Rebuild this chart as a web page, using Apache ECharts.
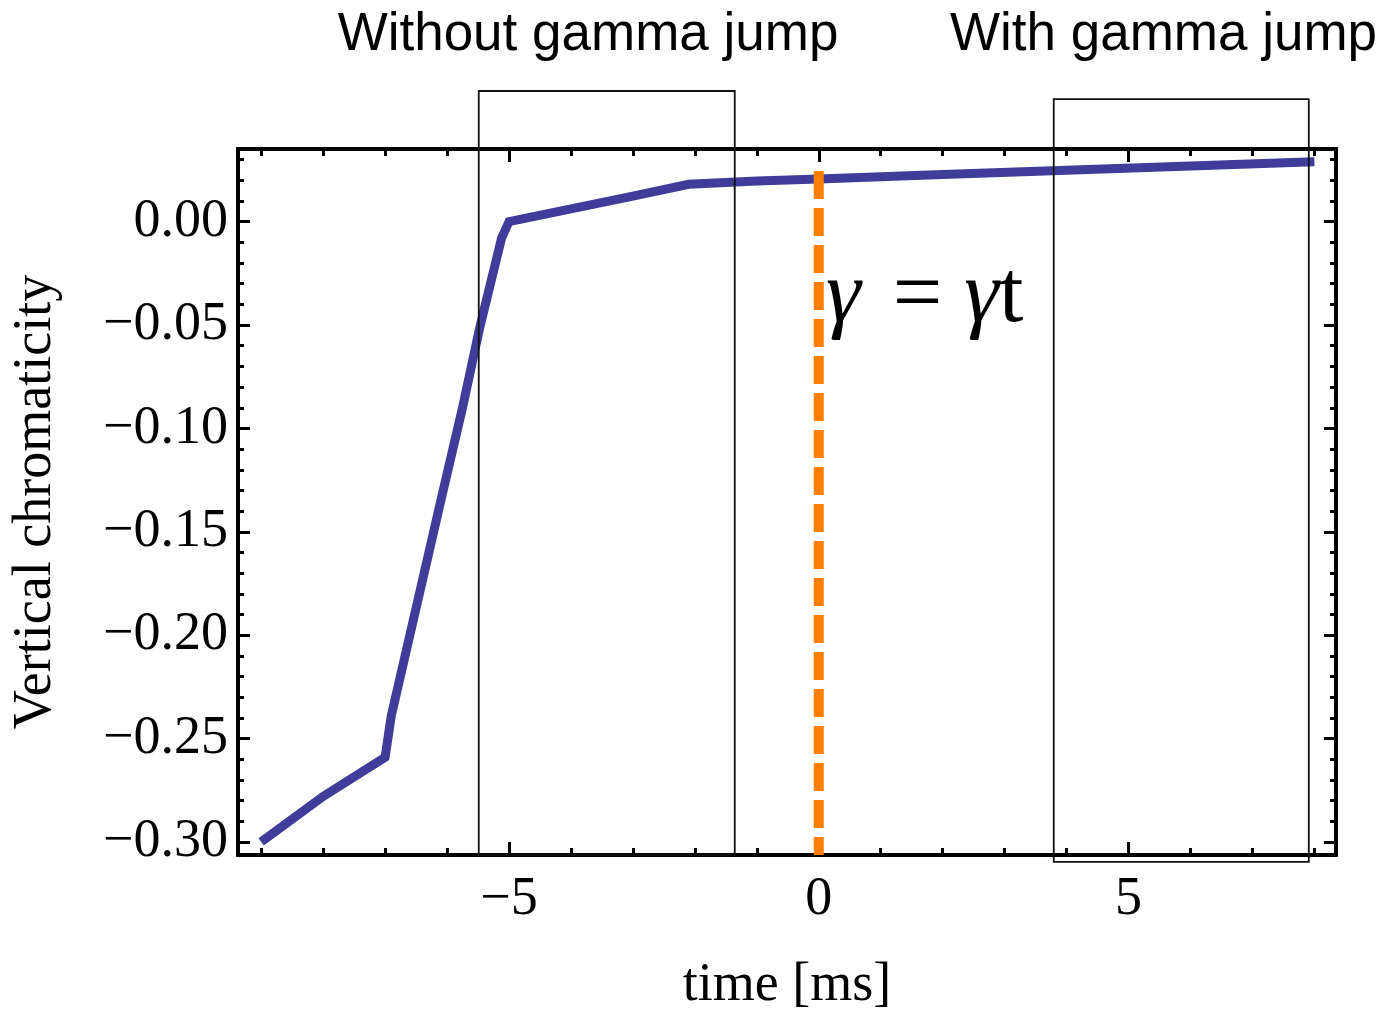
<!DOCTYPE html>
<html><head><meta charset="utf-8">
<script src="https://cdn.jsdelivr.net/npm/echarts@6/dist/echarts.min.js"></script>
<style>html,body{margin:0;padding:0;background:#fff}#c{width:1384px;height:1009px}</style>
</head><body><div id="c"></div>
<script>
// ---- data ----
const timeMs = [-9, -8, -7, -6.9, -6.07, -5.75, -5.47, -5.12, -5.0, -4.0, -3.0, -2.1, -1.0, 0, 2, 4, 6, 8];
const chromaticity = [-0.300, -0.278, -0.259, -0.239, -0.131, -0.090, -0.051, -0.008, 0.0, 0.0062, 0.0124, 0.0181, 0.0197, 0.0207, 0.0228, 0.0249, 0.0269, 0.029];
const markerTime = [0, 0];
const markerValue = [0.0245, -0.3063];
const boxLeft = [-5.488, 3.793];
const boxRight = [-1.356, 7.910];
const boxTop = [0.0632, 0.0593];
const boxBottom = [-0.3062, -0.3096];
const xMajorTicks = [-5, 0, 5];
const xMinorTicks = [-9, -8, -7, -6, -5, -4, -3, -2, -1, 0, 1, 2, 3, 4, 5, 6, 7, 8];
const yMajorTicks = [-0.30, -0.25, -0.20, -0.15, -0.10, -0.05, 0.00];
const yMinorTicks = [-0.30, -0.29, -0.28, -0.27, -0.26, -0.25, -0.24, -0.23, -0.22, -0.21, -0.20, -0.19, -0.18, -0.17, -0.16, -0.15, -0.14, -0.13, -0.12, -0.11, -0.10, -0.09, -0.08, -0.07, -0.06, -0.05, -0.04, -0.03, -0.02, -0.01, 0.00, 0.01, 0.02, 0.03];
const titleTexts = ['Without gamma jump', 'With gamma jump'];
const xName = 'time [ms]';
const yName = 'Vertical chromaticity';

const X_MIN = -9.374, X_MAX = 8.349;
const Y_MIN = -0.3063, Y_MAX = 0.03515;

const SERIF = '"Liberation Serif", "Times New Roman", serif';
const SANS = '"Liberation Sans", Arial, sans-serif';

function xAx(pos, ticks, len, extra) {
  return Object.assign({
    type: 'value', position: pos, min: X_MIN, max: X_MAX, gridIndex: 0,
    splitLine: {show: false},
    axisLine: {show: true, onZero: false, lineStyle: {color: '#000', width: 4}},
    axisTick: {show: true, inside: true, length: len, customValues: ticks, lineStyle: {color: '#000', width: 3}},
    axisLabel: {show: false}
  }, extra || {});
}
function yAx(pos, ticks, len, extra) {
  return Object.assign({
    type: 'value', position: pos, min: Y_MIN, max: Y_MAX, gridIndex: 0,
    splitLine: {show: false},
    axisLine: {show: true, onZero: false, lineStyle: {color: '#000', width: 4}},
    axisTick: {show: true, inside: true, length: len, customValues: ticks, lineStyle: {color: '#000', width: 3}},
    axisLabel: {show: false}
  }, extra || {});
}

const lineData = timeMs.map((t, i) => [t, chromaticity[i]]);
const markerData = markerTime.map((t, i) => [t, markerValue[i]]);
const boxData = boxLeft.map((l, i) => [l, boxRight[i], boxTop[i], boxBottom[i]]);

const chart = echarts.init(document.getElementById('c'), null, {renderer: 'canvas'});
chart.setOption({
  animation: false,
  backgroundColor: '#fff',
  grid: {left: 238, right: 48, top: 149, bottom: 154, containLabel: false, outerBoundsMode: 'none'},
  xAxis: [
    xAx('bottom', xMinorTicks, 7, {
      name: xName, nameLocation: 'middle', nameGap: 104,
      nameTextStyle: {fontFamily: SERIF, fontSize: 54, color: '#000'},
      axisLabel: {show: true, customValues: xMajorTicks, margin: 18, fontFamily: SERIF, fontSize: 54, color: '#000',
        formatter: v => (v < 0 ? '\u2212' : '') + Math.abs(v)}
    }),
    xAx('bottom', xMajorTicks, 13),
    xAx('top', xMinorTicks, 7),
    xAx('top', xMajorTicks, 13)
  ],
  yAxis: [
    yAx('left', yMinorTicks, 6, {
      name: yName, nameLocation: 'middle', nameGap: 175,
      nameTextStyle: {fontFamily: SERIF, fontSize: 54, color: '#000'},
      axisLabel: {show: true, customValues: yMajorTicks, margin: 10, fontFamily: SERIF, fontSize: 54, color: '#000',
        formatter: v => (v < -1e-9 ? '\u2212' : '') + Math.abs(v).toFixed(2)}
    }),
    yAx('left', yMajorTicks, 12),
    yAx('right', yMinorTicks, 6),
    yAx('right', yMajorTicks, 12)
  ],
  series: [
    {
      type: 'line', xAxisIndex: 0, yAxisIndex: 0, data: lineData,
      symbol: 'none', showSymbol: false, z: 2,
      lineStyle: {color: '#3F3D99', width: 9, join: 'miter'}
    },
    {
      type: 'custom', xAxisIndex: 0, yAxisIndex: 0, data: boxData, clip: false, z: 3, silent: true,
      renderItem: function (params, api) {
        const p0 = api.coord([api.value(0), api.value(2)]);
        const p1 = api.coord([api.value(1), api.value(3)]);
        return {
          type: 'rect',
          shape: {x: p0[0], y: p0[1], width: p1[0] - p0[0], height: p1[1] - p0[1]},
          style: {fill: 'none', stroke: '#111', lineWidth: 1.8}
        };
      }
    },
    {
      type: 'line', xAxisIndex: 0, yAxisIndex: 0, data: markerData,
      symbol: 'none', showSymbol: false, z: 4,
      lineStyle: {color: '#FF8000', width: 10, type: [28, 9], cap: 'butt'}
    }
  ],
  graphic: [
    {type: 'text', x: 588, y: 35, z: 10, style: {text: titleTexts[0], fontFamily: SANS, fontSize: 53, fill: '#000', align: 'center', verticalAlign: 'middle'}},
    {type: 'text', x: 950, y: 35, z: 10, style: {text: titleTexts[1], fontFamily: SANS, fontSize: 53, fill: '#000', align: 'left', verticalAlign: 'middle'}},
    {type: 'text', x: 826, y: 298, z: 10, style: {
      text: '{g|\u03B3}{e|=}{g|\u03B3}t', fontFamily: SERIF, fontSize: 88, fill: '#000', align: 'left', verticalAlign: 'middle',
      rich: {
        g: {fontFamily: SERIF, fontSize: 88, fontStyle: 'italic', fill: '#000'},
        e: {fontFamily: SERIF, fontSize: 88, fill: '#000', padding: [0, 22, 0, 32]}
      }
    }}
  ]
});
</script>
</body></html>
